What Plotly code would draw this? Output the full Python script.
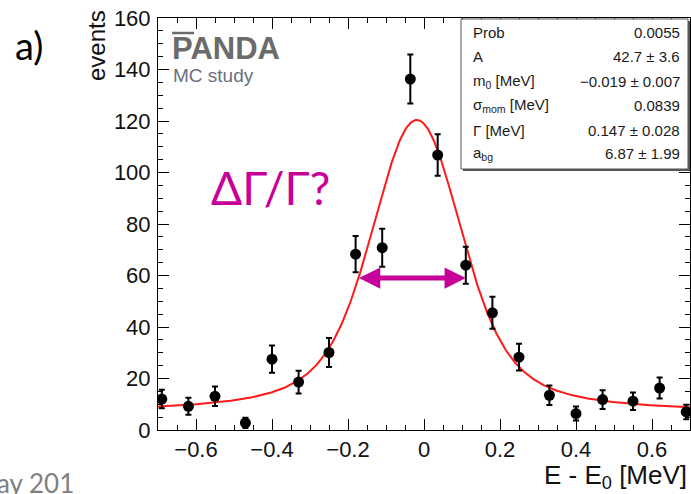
import numpy as np
import plotly.graph_objects as go

# ---- data ----
energy = [-0.69, -0.62, -0.55, -0.47, -0.40, -0.33, -0.25, -0.18, -0.11, -0.036,
          0.036, 0.11, 0.18, 0.25, 0.33, 0.40, 0.47, 0.55, 0.62, 0.69]
events = [12.0, 9.2, 13.1, 2.8, 27.5, 18.6, 30.1, 68.3, 70.8, 136.3,
          106.8, 64.0, 45.5, 28.3, 13.5, 6.4, 11.8, 11.2, 16.3, 7.0]
errors = [3.6, 3.3, 3.8, 2.0, 5.3, 4.4, 5.6, 7.0, 7.4, 9.5,
          8.1, 7.2, 6.2, 5.2, 3.8, 2.7, 3.6, 3.4, 4.1, 2.8]

# fit parameters (from the stats box)
fit_A = 42.7
fit_m0 = -0.019
fit_sigma = 0.0839
fit_gamma = 0.147
fit_abg = 6.87

stat_labels = ["Prob", "A", "m<sub>0</sub> [MeV]", "σ<sub>mom</sub> [MeV]", "Γ [MeV]", "a<sub>bg</sub>"]
stat_values = ["0.0055", "42.7 ± 3.6", "−0.019 ± 0.007", "0.0839", "0.147 ± 0.028", "6.87 ± 1.99"]

x_ticks = [-0.6, -0.4, -0.2, 0, 0.2, 0.4, 0.6]
y_ticks = [0, 20, 40, 60, 80, 100, 120, 140, 160]

# Voigt fit curve from parameters (numerical convolution)
xc = np.linspace(-0.7, 0.7, 701)
t = np.linspace(-1.2, 1.2, 4801)
dt = t[1] - t[0]
gauss = np.exp(-0.5 * (t / fit_sigma) ** 2) / (fit_sigma * np.sqrt(2 * np.pi))
voigt = np.array([np.sum(gauss * (fit_gamma / (2 * np.pi)) /
                         ((xi - fit_m0 - t) ** 2 + fit_gamma ** 2 / 4)) * dt for xi in xc])
yc = fit_A * voigt + fit_abg

W, H = 691, 494
L, R, T, B = 158, 690, 18, 430


def px(x):
    return (x - L) / (R - L)


def py(y):
    return (B - y) / (B - T)


def label(text, x, y, size, color, family="Liberation Sans, Arial", xanchor="left", **kw):
    return dict(text=text, x=px(x), y=py(y), xref="paper", yref="paper",
                xanchor=xanchor, yanchor="middle", showarrow=False,
                font=dict(family=family, size=size, color=color), **kw)


fig = go.Figure()
fig.add_trace(go.Scatter(x=xc, y=yc, mode="lines", line=dict(color="#ff1a1a", width=2),
                         hoverinfo="skip"))
fig.add_trace(go.Scatter(x=energy, y=events, mode="markers",
                         marker=dict(color="black", size=11),
                         error_y=dict(type="data", array=errors, color="black",
                                      thickness=2, width=3)))

axis_font = dict(family="Liberation Sans, Arial, sans-serif", size=22, color="#111")
fig.update_xaxes(range=[-0.7, 0.7], tickvals=x_ticks, ticks="inside", ticklen=11,
                 tickwidth=1, tickcolor="black", showline=True, linecolor="black",
                 linewidth=1, mirror="ticks", showgrid=False, zeroline=False,
                 tickfont=axis_font,
                 minor=dict(ticks="inside", ticklen=5, dtick=0.05, tickcolor="black",
                            showgrid=False))
fig.update_yaxes(range=[0, 160], tickvals=y_ticks, ticks="inside", ticklen=11,
                 tickwidth=1, tickcolor="black", showline=True, linecolor="black",
                 linewidth=1, mirror="ticks", showgrid=False, zeroline=False,
                 tickfont=axis_font, ticklabelstandoff=2,
                 minor=dict(ticks="inside", ticklen=5, dtick=5, tickcolor="black",
                            showgrid=False))

ann = []
ann.append(label("events", 97, 46, 24, "#111", xanchor="center", textangle=-90))
ann.append(label("E - E<sub>0</sub> [MeV]", 689, 476, 26, "#111", xanchor="right"))
ann.append(label("a)", 13, 45, 38, "black", family="Lato, sans-serif"))
ann.append(label("ΔΓ/Γ?", 209, 187, 46, "#C8009A", family="Lato, sans-serif"))
ann.append(label("ay 201", -5, 483, 26, "#808080", family="Lato, sans-serif"))
ann.append(label("<b>PANDA</b>", 170, 49, 31, "#6b6b6b"))
ann.append(label("MC study", 171, 75, 19, "#6b7080"))
# FWHM arrow
ann.append(dict(text="", x=0.11, y=59, ax=-0.175, ay=59, xref="x", yref="y", axref="x", ayref="y",
                showarrow=True, arrowside="end+start", arrowhead=2, startarrowhead=2,
                arrowsize=0.85, startarrowsize=0.85, arrowwidth=5, arrowcolor="#C8009A"))
# stats box text
row_y = [33, 57, 81, 105, 130, 154]
for lab, val, ry in zip(stat_labels, stat_values, row_y):
    ann.append(label(lab, 471, ry, 15, "#1a1a1a"))
    ann.append(label(val, 682, ry, 15, "#1a1a1a", xanchor="right"))

shapes = [
    # overline on P
    dict(type="line", xref="paper", yref="paper", x0=px(172), x1=px(194), y0=py(33), y1=py(33),
         line=dict(color="#6b6b6b", width=2.5)),
    # stats box shadow
    dict(type="rect", xref="paper", yref="paper", x0=px(463), x1=px(690), y0=py(171), y1=py(21),
         line=dict(width=0), fillcolor="#555"),
    dict(type="rect", xref="paper", yref="paper", x0=px(461), x1=px(688), y0=py(169), y1=py(19),
         line=dict(color="#555", width=1), fillcolor="white"),
]

fig.update_layout(width=W, height=H, margin=dict(l=L, r=W - R, t=T, b=H - B),
                  plot_bgcolor="white", paper_bgcolor="white", showlegend=False,
                  annotations=ann, shapes=shapes)
fig.write_html("out.html", config={"displayModeBar": False},
               post_script="document.body.style.margin='0';document.body.style.overflow='hidden';")
